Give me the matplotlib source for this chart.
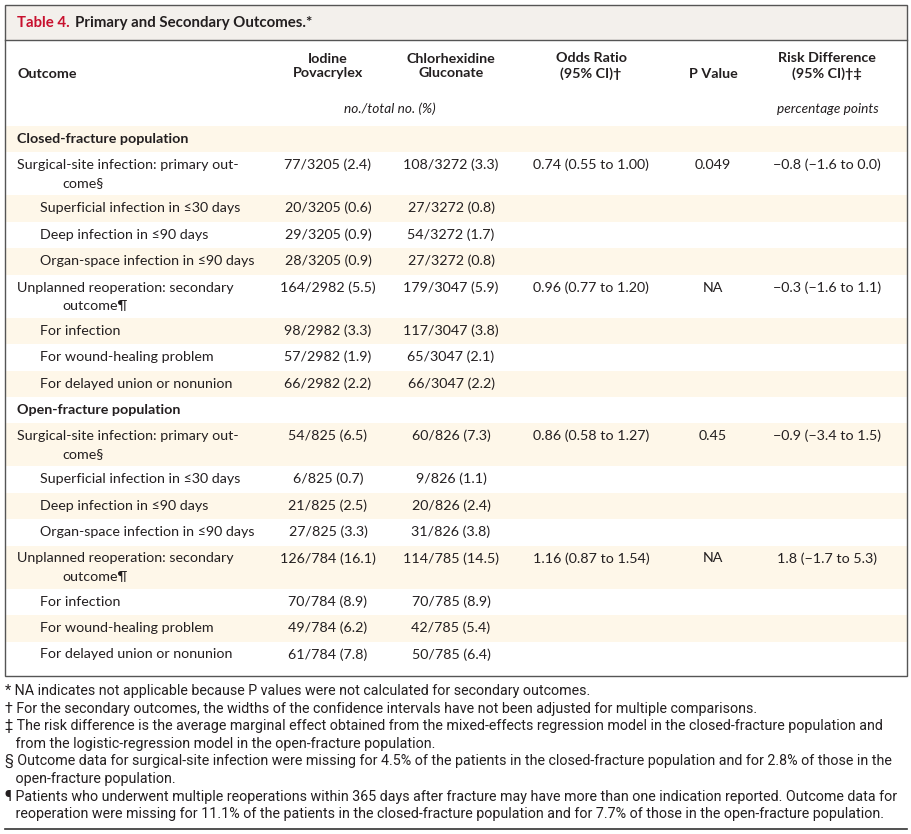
import matplotlib.pyplot as plt
from matplotlib.patches import Rectangle

plt.rcParams['font.family'] = ['Lato', 'DejaVu Sans']

# table rows: (label, indent level, iodine, chlorhexidine, odds ratio, p value, risk difference)
closed_rows = [
    (['Surgical-site infection: primary out-', 'come§'], 0, '77/3205 (2.4)', '108/3272 (3.3)', '0.74 (0.55 to 1.00)', '0.049', '\u22120.8 (\u22121.6 to 0.0)'),
    (['Superficial infection in ≤30 days'], 1, '20/3205 (0.6)', '27/3272 (0.8)', '', '', ''),
    (['Deep infection in ≤90 days'], 1, '29/3205 (0.9)', '54/3272 (1.7)', '', '', ''),
    (['Organ-space infection in ≤90 days'], 1, '28/3205 (0.9)', '27/3272 (0.8)', '', '', ''),
    (['Unplanned reoperation: secondary', 'outcome¶'], 0, '164/2982 (5.5)', '179/3047 (5.9)', '0.96 (0.77 to 1.20)', 'NA', '\u22120.3 (\u22121.6 to 1.1)'),
    (['For infection'], 1, '98/2982 (3.3)', '117/3047 (3.8)', '', '', ''),
    (['For wound-healing problem'], 1, '57/2982 (1.9)', '65/3047 (2.1)', '', '', ''),
    (['For delayed union or nonunion'], 1, '66/2982 (2.2)', '66/3047 (2.2)', '', '', ''),
]
open_rows = [
    (['Surgical-site infection: primary out-', 'come§'], 0, '54/825 (6.5)', '60/826 (7.3)', '0.86 (0.58 to 1.27)', '0.45', '\u22120.9 (\u22123.4 to 1.5)'),
    (['Superficial infection in ≤30 days'], 1, '6/825 (0.7)', '9/826 (1.1)', '', '', ''),
    (['Deep infection in ≤90 days'], 1, '21/825 (2.5)', '20/826 (2.4)', '', '', ''),
    (['Organ-space infection in ≤90 days'], 1, '27/825 (3.3)', '31/826 (3.8)', '', '', ''),
    (['Unplanned reoperation: secondary', 'outcome¶'], 0, '126/784 (16.1)', '114/785 (14.5)', '1.16 (0.87 to 1.54)', 'NA', '1.8 (\u22121.7 to 5.3)'),
    (['For infection'], 1, '70/784 (8.9)', '70/785 (8.9)', '', '', ''),
    (['For wound-healing problem'], 1, '49/784 (6.2)', '42/785 (5.4)', '', '', ''),
    (['For delayed union or nonunion'], 1, '61/784 (7.8)', '50/785 (6.4)', '', '', ''),
]
sections = [('Closed-fracture population', closed_rows), ('Open-fracture population', open_rows)]

headers = ['Iodine\nPovacrylex', 'Chlorhexidine\nGluconate', 'Odds Ratio\n(95% CI)†', 'P Value', 'Risk Difference\n(95% CI)†‡']
col_x = [328, 451, 591, 713, 827]

footnotes = [
    '* NA indicates not applicable because P values were not calculated for secondary outcomes.',
    '† For the secondary outcomes, the widths of the confidence intervals have not been adjusted for multiple comparisons.',
    '‡ The risk difference is the average marginal effect obtained from the mixed-effects regression model in the closed-fracture population and',
    '   from the logistic-regression model in the open-fracture population.',
    '§ Outcome data for surgical-site infection were missing for 4.5% of the patients in the closed-fracture population and for 2.8% of those in the',
    '   open-fracture population.',
    '¶ Patients who underwent multiple reoperations within 365 days after fracture may have more than one indication reported. Outcome data for',
    '   reoperation were missing for 11.1% of the patients in the closed-fracture population and for 7.7% of those in the open-fracture population.',
]

W, H = 911, 834
fig = plt.figure(figsize=(W / 100, H / 100), dpi=100)
ax = fig.add_axes([0, 0, 1, 1])
ax.set_xlim(0, W)
ax.set_ylim(H, 0)
ax.axis('off')

shade = '#fef7e9'
fs = 10.3
txt = '#231f20'

# title band
ax.add_patch(Rectangle((5, 5), 902, 35, facecolor='#f3f0ec', edgecolor='none'))
t1 = ax.text(17, 23, 'Table 4.', color='#c8102e', fontsize=10.8, fontweight='bold', va='center')
ax.annotate('Primary and Secondary Outcomes.*', xy=(1, 0.5), xycoords=t1, xytext=(4, 0),
            textcoords='offset points', color=txt, fontsize=10.8, fontweight='bold', va='center')
ax.plot([5, 907], [40, 40], color='#555555', lw=1)

# header
ax.text(17, 74, 'Outcome', fontsize=fs, fontweight='bold', va='center', color=txt)
for x, h in zip(col_x, headers):
    ax.text(x, 66 if '\n' in h else 74, h, fontsize=fs, fontweight='bold', ha='center', va='center',
            linespacing=1.25, color=txt)
ax.text(390, 109, 'no./total no. (%)', fontsize=fs - 0.5, style='italic', ha='center', va='center', color=txt)
ax.text(828, 109, 'percentage points', fontsize=fs - 0.5, style='italic', ha='center', va='center', color=txt)

y = 126
k = 0
for title, rows in sections:
    h = 26
    if k % 2 == 0:
        ax.add_patch(Rectangle((5, y), 902, h, facecolor=shade, edgecolor='none'))
    ax.text(17, y + h / 2, title, fontsize=fs, fontweight='bold', va='center', color=txt)
    y += h
    k += 1
    for label, lvl, a, b, orr, p, rd in rows:
        h = 43 if len(label) > 1 else 26.5
        if k % 2 == 0:
            ax.add_patch(Rectangle((5, y), 902, h, facecolor=shade, edgecolor='none'))
        ty = y + 13
        ax.text(17 + 23 * lvl, ty, label[0], fontsize=fs, va='center', color=txt)
        if len(label) > 1:
            ax.text(62, ty + 18, label[1], fontsize=fs, va='center', color=txt)
        for x, v in zip(col_x, [a, b, orr, p, rd]):
            ax.text(x, ty, v, fontsize=fs, ha='center', va='center', color=txt)
        y += h
        k += 1

# outer box
ax.add_patch(Rectangle((5, 5), 902, 671, facecolor='none', edgecolor='#555555', lw=1))

# footnotes
fy = 691
for i, f in enumerate(footnotes):
    ax.text(5, fy + i * 17.6, f, fontsize=10.3, va='center', color=txt,
            family=['Roboto', 'DejaVu Sans'])
ax.plot([5, 907], [829, 829], color='#333333', lw=1.2)

fig.savefig('out.png', dpi=100, facecolor='white')
